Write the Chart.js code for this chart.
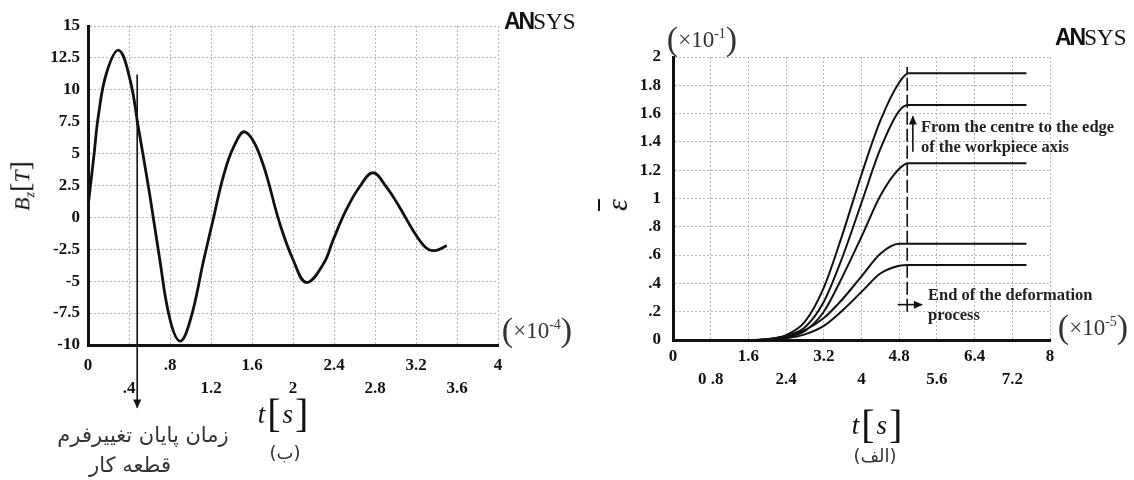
<!DOCTYPE html>
<html>
<head>
<meta charset="utf-8">
<script src="https://cdn.jsdelivr.net/npm/chart.js@4.4.1/dist/chart.umd.min.js"></script>
<style>
body{margin:0;background:#fff;width:1134px;height:480px;position:relative;overflow:hidden;font-family:'Liberation Serif',serif;color:#111;}
canvas{position:absolute;top:0;}
.lbl{position:absolute;white-space:nowrap;transform:translate(-50%,-50%);line-height:1;}
.ansys{position:absolute;white-space:nowrap;font-size:23px;line-height:1;}
.ansys b{font-family:'Liberation Sans',sans-serif;font-weight:900;letter-spacing:-2px;}
.mult{font-size:23px;color:#333;}
.mult .par{font-size:34px;font-weight:lighter;vertical-align:-3px;}
.mult sup{font-size:14px;}
.tlab{font-size:27px;font-style:italic;}
.tlab .br{font-style:normal;font-size:40px;vertical-align:-4px;margin:0 2px;}
.fa{font-family:'DejaVu Sans',sans-serif;font-size:21px;color:#333;}
.note{position:absolute;white-space:nowrap;font-weight:bold;font-size:16.5px;line-height:20px;color:#222;}
</style>
</head>
<body>
<canvas id="bzChart" width="567" height="480" style="left:0"></canvas>
<canvas id="strainChart" width="567" height="480" style="left:567px"></canvas>

<!-- left chart texts -->
<div class="ansys" style="left:504px;top:10px"><b>AN</b>SYS</div>
<div class="lbl" style="left:22px;top:186px;transform:translate(-50%,-50%) rotate(-90deg);font-size:22px;font-style:italic">B<sub style="font-size:14px">z</sub><span style="font-style:normal;font-size:28px">[</span>T<span style="font-style:normal;font-size:28px">]</span></div>
<div class="lbl mult" style="left:537px;top:330px"><span class="par">(</span>×10<sup>-4</sup><span class="par">)</span></div>
<div class="lbl tlab" style="left:284px;top:414px">t<span class="br">[</span>s<span class="br">]</span></div>
<div class="lbl fa" style="left:285px;top:453px;font-size:18px" dir="rtl">(ب)</div>
<div class="lbl fa" style="left:143px;top:435px" dir="rtl">زمان پایان تغییرفرم</div>
<div class="lbl fa" style="left:130px;top:465px" dir="rtl">قطعه کار</div>

<!-- right chart texts -->
<div class="ansys" style="left:1055px;top:26px"><b>AN</b>SYS</div>
<div class="lbl mult" style="left:702px;top:39px"><span class="par">(</span>×10<sup>-1</sup><span class="par">)</span></div>
<div class="lbl" style="left:617px;top:205px;transform:translate(-50%,-50%) rotate(-90deg);font-size:30px;font-style:italic;text-decoration:overline;text-decoration-thickness:2px">ε</div>
<div class="note" style="left:921px;top:117px">From the centre to the edge<br>of the workpiece axis</div>
<div class="note" style="left:928px;top:285px">End of the deformation<br>process</div>
<div class="lbl mult" style="left:1093px;top:327px"><span class="par">(</span>×10<sup>-5</sup><span class="par">)</span></div>
<div class="lbl tlab" style="left:878px;top:425px">t<span class="br">[</span>s<span class="br">]</span></div>
<div class="lbl fa" style="left:875px;top:456px;font-size:18px" dir="rtl">(الف)</div>

<script>
//Left chart data: B_z [T] against t (x10^-4 s)
var bzTime = [0, 0.06, 0.10, 0.18, 0.30, 0.41, 0.49, 0.60, 0.70, 0.80, 0.90, 1.00, 1.13, 1.22, 1.32, 1.42, 1.53, 1.68, 1.87, 2.00, 2.13, 2.30, 2.39, 2.52, 2.65, 2.78, 2.91, 3.04, 3.17, 3.30, 3.39, 3.50];
var bzValue = [0.8, 5.0, 7.9, 11.3, 13.1, 10.8, 7.1, 1.9, -3.3, -8.0, -9.7, -8.0, -3.3, -0.2, 3.2, 5.5, 6.7, 4.8, -0.45, -3.3, -5.1, -3.6, -1.8, 0.6, 2.4, 3.5, 2.4, 0.8, -1.0, -2.4, -2.6, -2.2];
var bzTickLabels = ['0', '.4', '.8', '1.2', '1.6', '2', '2.4', '2.8', '3.2', '3.6', '4'];
//end of workpiece deformation marker (t, top and bottom of the arrow)
var bzEndT = 0.48;
var bzEndRange = [11.2, -14.9];

//Right chart data: effective strain (x10^-1) against t (x10^-5 s)
var strainTime = [0, 1.6, 2.0, 2.4, 2.8, 3.2, 3.6, 4.0, 4.4, 4.8, 5.0, 7.5];
var strainLine1 = [0, 0, 0.006, 0.035, 0.13, 0.37, 0.75, 1.17, 1.55, 1.82, 1.885, 1.885];
var strainLine2 = [0, 0, 0.005, 0.03, 0.09, 0.27, 0.59, 0.97, 1.35, 1.62, 1.66, 1.66];
var strainLine3 = [0, 0, 0.004, 0.018, 0.065, 0.20, 0.45, 0.73, 1.02, 1.21, 1.25, 1.25];
var strainLine4 = [0, 0, 0.003, 0.022, 0.07, 0.155, 0.29, 0.45, 0.61, 0.68, 0.68, 0.68];
var strainLine5 = [0, 0, 0.002, 0.012, 0.04, 0.10, 0.21, 0.34, 0.47, 0.525, 0.53, 0.53];
var strainTickLabels = ['0', '0 .8', '1.6', '2.4', '3.2', '4', '4.8', '5.6', '6.4', '7.2', '8'];
var strainYLabels = ['0', '.2', '.4', '.6', '.8', '1', '1.2', '1.4', '1.6', '1.8', '2'];
//end of deformation dashed line and the two arrows
var endT = 4.97;
var endRange = [0.2, 1.93];
var endArrowT = [4.77, 5.28];
var endArrowY = 0.25;
var edgeArrowT = 5.09;
var edgeArrowRange = [1.33, 1.58];

var tickFont = {family: 'Liberation Serif', weight: 'bold', size: 17, lineHeight: 1.35};
var gridColor = '#b5b5b5';

function toPoints(xs, ys) {
  var pts = [];
  for (var i = 0; i < xs.length; i++) {
    pts.push({x: xs[i], y: ys[i]});
  }
  return pts;
}

function curve(xs, ys, width, smooth) {
  var ds = {
    data: toPoints(xs, ys),
    borderColor: '#111',
    borderWidth: width,
    pointRadius: 0
  };
  if (smooth) {
    ds.tension = 0.4;
  } else {
    ds.cubicInterpolationMode = 'monotone';
  }
  return ds;
}

//straight mark, headAngle gives the direction of the arrow head (null = none)
function arrow(pts, headAngle, dash) {
  return {
    data: pts,
    borderColor: '#111',
    borderWidth: 1.6,
    borderDash: dash || [],
    pointRadius: 0,
    headAngle: headAngle,
    clip: false
  };
}

//draws the arrow heads on the last point of the marked datasets
var arrowHeads = {
  id: 'arrowHeads',
  afterDatasetsDraw: function (chart) {
    var ctx = chart.ctx;
    chart.data.datasets.forEach(function (ds, i) {
      if (ds.headAngle === undefined || ds.headAngle === null) return;
      var pts = chart.getDatasetMeta(i).data;
      var p = pts[pts.length - 1];
      ctx.save();
      ctx.translate(p.x, p.y);
      ctx.rotate(ds.headAngle * Math.PI / 180);
      ctx.beginPath();
      ctx.moveTo(0, -1);
      ctx.lineTo(4, 8);
      ctx.lineTo(-4, 8);
      ctx.closePath();
      ctx.fillStyle = '#111';
      ctx.fill();
      ctx.restore();
    });
  }
};

function staggered(labels) {
  return function (value, index) {
    return index % 2 === 0 ? [labels[index], ''] : ['', labels[index]];
  };
}

function baseOptions(o) {
  return {
    responsive: false,
    animation: false,
    layout: {padding: {left: 0, top: o.top, right: o.right, bottom: 0}},
    plugins: {legend: {display: false}, tooltip: {enabled: false}},
    scales: {
      x: {
        type: 'linear', min: o.xMin, max: o.xMax,
        afterFit: function (scale) { scale.height = o.xHeight; },
        ticks: {stepSize: o.xStep, autoSkip: false, maxRotation: 0, color: '#111', font: tickFont, padding: o.xPad, callback: staggered(o.xLabels)},
        grid: {color: gridColor, lineWidth: 1, drawTicks: false},
        border: {color: '#111', width: 3, dash: [2, 2]}
      },
      y: {
        type: 'linear', min: o.yMin, max: o.yMax,
        afterFit: function (scale) { scale.width = o.yWidth; },
        ticks: {stepSize: o.yStep, color: '#111', font: tickFont, padding: o.yPad, callback: o.yCallback},
        grid: {color: gridColor, lineWidth: 1, drawTicks: false},
        border: {color: '#111', width: 3, dash: [2, 2]}
      }
    }
  };
}

//Left chart
new Chart(document.getElementById('bzChart').getContext('2d'), {
  type: 'line',
  data: {
    datasets: [
      curve(bzTime, bzValue, 2.8, true),
      arrow([{x: bzEndT, y: bzEndRange[0]}, {x: bzEndT, y: bzEndRange[1]}], 180)
    ]
  },
  options: baseOptions({
    top: 26, right: 69, xHeight: 135, yWidth: 88,
    xMin: 0, xMax: 4, xStep: 0.4, xLabels: bzTickLabels, xPad: 9,
    yMin: -10, yMax: 15, yStep: 2.5, yPad: 8,
    yCallback: function (value) { return String(value); }
  }),
  plugins: [arrowHeads]
});

//Right chart
new Chart(document.getElementById('strainChart').getContext('2d'), {
  type: 'line',
  data: {
    datasets: [
      curve(strainTime, strainLine1, 2),
      curve(strainTime, strainLine2, 2),
      curve(strainTime, strainLine3, 2),
      curve(strainTime, strainLine4, 2),
      curve(strainTime, strainLine5, 2),
      arrow([{x: endT, y: endRange[0]}, {x: endT, y: endRange[1]}], null, [13, 4]),
      arrow([{x: endArrowT[0], y: endArrowY}, {x: endArrowT[1], y: endArrowY}], 90),
      arrow([{x: edgeArrowT, y: edgeArrowRange[0]}, {x: edgeArrowT, y: edgeArrowRange[1]}], 0)
    ]
  },
  options: baseOptions({
    top: 57, right: 84, xHeight: 140, yWidth: 106,
    xMin: 0, xMax: 8, xStep: 0.8, xLabels: strainTickLabels, xPad: 5,
    yMin: 0, yMax: 2, yStep: 0.2, yPad: 12,
    yCallback: function (value, index) { return strainYLabels[index]; }
  }),
  plugins: [arrowHeads]
});
</script>
</body>
</html>
